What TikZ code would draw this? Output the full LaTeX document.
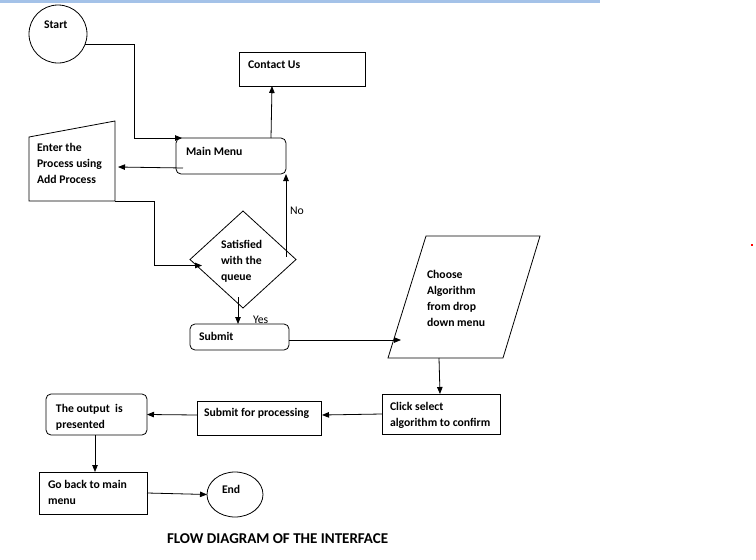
\documentclass[tikz,border=0pt]{standalone}
\usepackage{fontspec}
\setmainfont{Carlito}
\usetikzlibrary{arrows.meta,calc,shapes.geometric}
\definecolor{barblue}{RGB}{164,194,232}
\begin{document}
\begin{tikzpicture}[x=1pt,y=-1pt,
  line width=0.8pt,
  boxshape/.style={draw, inner sep=0pt, outer sep=0pt},
  ghost/.style={inner sep=0pt, outer sep=0pt},
  lbl/.style={anchor=base west, inner sep=0pt, outer sep=0pt, font=\fontsize{11.7}{16.3}\selectfont\bfseries},
  plainlbl/.style={anchor=base west, inner sep=0pt, outer sep=0pt, font=\fontsize{11.7}{16.3}\selectfont},
  arr/.style={-{Triangle[length=7pt,width=5.5pt]}}
]
\useasboundingbox (0,0) rectangle (756,560);
\fill[barblue] (0,0) rectangle (600,2.5);
\fill[red] (751,244) rectangle (753,246);

% shapes
\node[boxshape, circle, minimum size=58pt] (start) at (58,34) {};
\node[boxshape, rounded corners=5pt, minimum width=110pt, minimum height=36pt] (mm) at (231,156) {};
\node[boxshape, minimum width=126pt, minimum height=34pt] (cu) at (302,69) {};
\node[ghost, minimum width=86pt, minimum height=80pt] (enter) at (72,161) {};
\draw (enter.south west) -- (enter.south east) -- (enter.north east) -- ([yshift=-16pt]enter.north west) -- cycle;
\node[ghost, minimum width=106pt, minimum height=97pt] (dia) at (243,259.5) {};
\draw (dia.west) -- (dia.north) -- (dia.east) -- (dia.south) -- cycle;
\node[boxshape, rounded corners=5pt, minimum width=99pt, minimum height=26pt] (sub) at (239.5,337) {};
\node[ghost, minimum width=152pt, minimum height=122pt] (para) at (464,297) {};
\draw ([xshift=38pt]para.north west) -- (para.north east) -- ([xshift=-37pt]para.south east) -- (para.south west) -- cycle;
\node[boxshape, minimum width=118pt, minimum height=40pt] (click) at (441,414) {};
\node[boxshape, minimum width=124pt, minimum height=34pt] (sp) at (259,418) {};
\node[boxshape, rounded corners=5pt, minimum width=101pt, minimum height=41pt] (out) at (96.5,414.5) {};
\node[boxshape, minimum width=108pt, minimum height=42pt] (gb) at (93,493) {};
\node[boxshape, ellipse, minimum width=56pt, minimum height=45pt] (end) at (235,494.5) {};

% labels
\node[lbl] (tStart) at (44,28) {Start};
\node[lbl] (tCU) at (248,68) {Contact Us};
\node[lbl] (tMM) at (186,155) {Main Menu};
\node[lbl] (tEnter) at (37,151) {\vtop{\hbox{Enter the}\hbox{Process using}\hbox{Add Process}}};
\node[lbl] (tDia) at (221,248) {\vtop{\hbox{Satisfied}\hbox{with the}\hbox{queue}}};
\node[plainlbl] (tNo) at (290,214) {No};
\node[plainlbl] (tYes) at (253,323) {Yes};
\node[lbl] (tSub) at (199,340) {Submit};
\node[lbl] (tPara) at (427,278) {\vtop{\hbox{Choose}\hbox{Algorithm}\hbox{from drop}\hbox{down menu}}};
\node[lbl] (tClick) at (390,410) {\vtop{\hbox{Click select}\hbox{algorithm to confirm}}};
\node[lbl] (tSP) at (204,416) {Submit for processing};
\node[lbl] (tOut) at (56,412) {\vtop{\hbox{The output\ \ is}\hbox{presented}}};
\node[lbl] (tGB) at (48,488) {\vtop{\hbox{Go back to main}\hbox{menu}}};
\node[lbl] (tEnd) at (222,493) {End};
\node[lbl, font=\fontsize{15}{17}\selectfont\bfseries] (title) at (167,543) {FLOW DIAGRAM OF THE INTERFACE};

% connectors
\draw[arr] (start.-20) -| ([xshift=-42pt]mm.north west) -- ([xshift=6pt]mm.north west);
\draw[arr] ([xshift=40pt]mm.north) -- ([xshift=-30pt]cu.south);
\draw[arr] ([xshift=7pt,yshift=-12pt]mm.west) -- ([xshift=3pt,yshift=-6pt]enter.east);
\draw[arr] (enter.south east) -| ([xshift=-36pt,yshift=-6pt]dia.west) -- ([xshift=12pt,yshift=-6pt]dia.west);
\draw[arr] ([xshift=-10pt,yshift=3pt]dia.east) -- (mm.south east);
\draw[arr] ([xshift=-5pt,yshift=11pt]dia.south) -- ([xshift=-1.5pt]sub.north);
\draw[arr] ([yshift=-3pt]sub.east) -- ([xshift=13pt,yshift=18pt]para.south west);
\draw[arr] ([xshift=-25pt]para.south) -- ([xshift=-1pt]click.north);
\draw[arr] (click.west) -- ([xshift=1pt,yshift=3pt]sp.east);
\draw[arr] ([yshift=3pt]sp.west) -- (out.east);
\draw[arr] ([xshift=-1.5pt]out.south) -- ([xshift=2pt]gb.north);
\draw[arr] (gb.east) -- (end.west);
\end{tikzpicture}
\end{document}
